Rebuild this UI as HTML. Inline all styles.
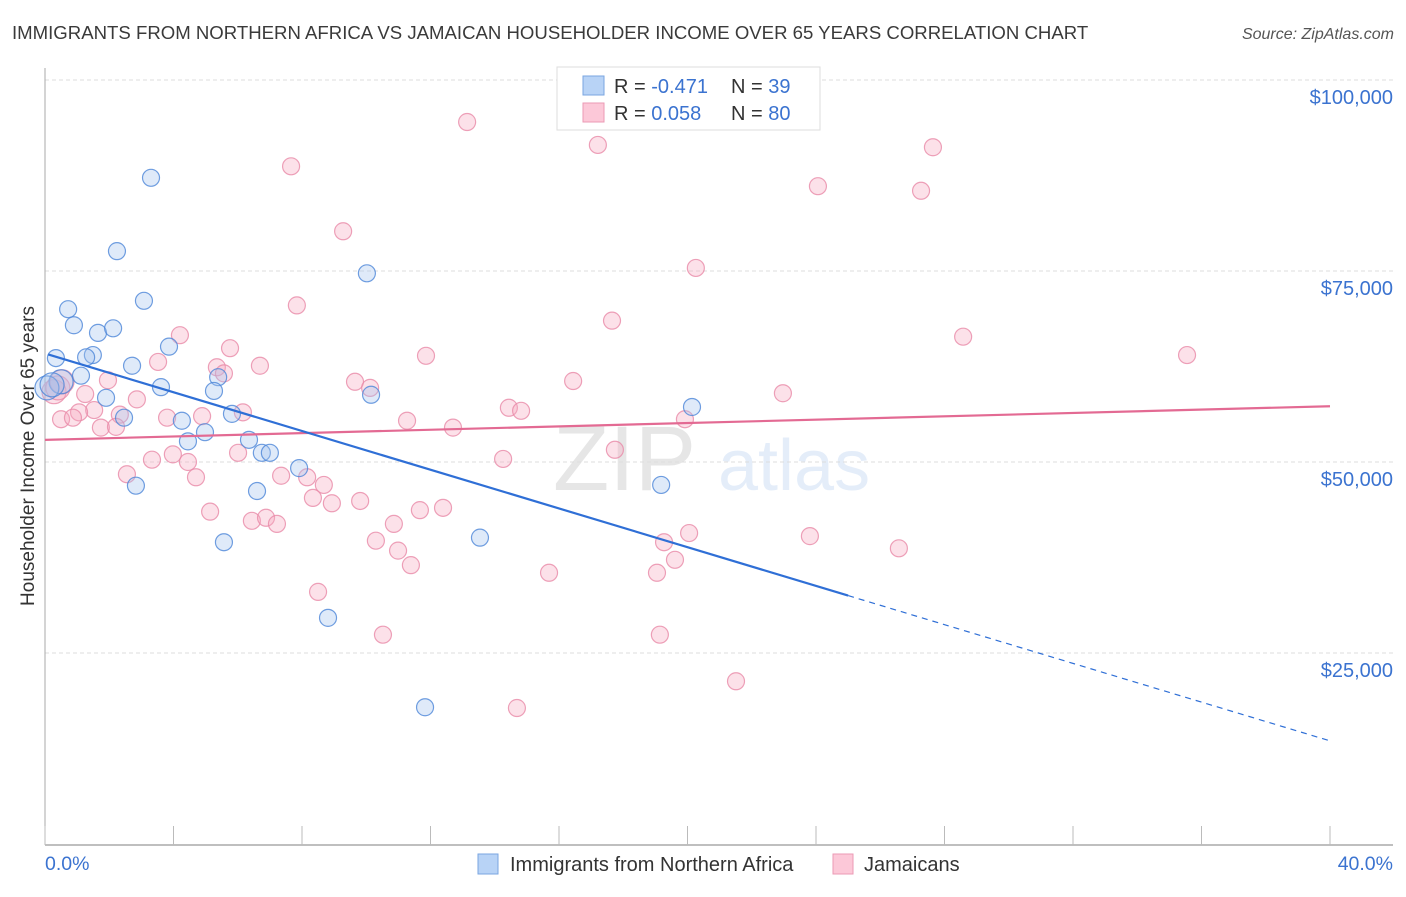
<!DOCTYPE html>
<html><head><meta charset="utf-8"><style>
body{margin:0;background:#fff;font-family:"Liberation Sans",sans-serif;}
svg text{font-family:"Liberation Sans",sans-serif;}
</style></head><body>
<svg id="chart" width="1406" height="892" viewBox="0 0 1406 892" xmlns="http://www.w3.org/2000/svg">
<text x="12" y="39" font-size="18.6" fill="#3a3a3a">IMMIGRANTS FROM NORTHERN AFRICA VS JAMAICAN HOUSEHOLDER INCOME OVER 65 YEARS CORRELATION CHART</text>
<text x="1394" y="39" font-size="16" fill="#555" font-style="italic" text-anchor="end">Source: ZipAtlas.com</text>
<g opacity="0.13">
<text x="553" y="490" font-size="92" font-family="Liberation Serif" fill="#444">ZIP</text>
<text x="718" y="490" font-size="72" fill="#3b7dd8">atlas</text>
</g>
<g id="grid"></g>
<g id="axes"></g>
<g id="pts"></g>
<g id="trends"></g>
<text transform="translate(34,456) rotate(-90)" font-size="19" fill="#333" text-anchor="middle">Householder Income Over 65 years</text>
<g>
<rect x="557" y="67" width="263" height="63" fill="#fff" stroke="#ddd"/>
<rect x="583" y="76" width="21" height="19" fill="#b8d3f6" stroke="#7aa6e0"/>
<rect x="583" y="103" width="21" height="19" fill="#fcc8d8" stroke="#eb9ab4"/>
<text x="614" y="93" font-size="20" fill="#333">R = <tspan fill="#3b73d0">-0.471</tspan></text>
<text x="731" y="93" font-size="20" fill="#333">N = <tspan fill="#3b73d0"> 39</tspan></text>
<text x="614" y="120" font-size="20" fill="#333">R = <tspan fill="#3b73d0"> 0.058</tspan></text>
<text x="731" y="120" font-size="20" fill="#333">N = <tspan fill="#3b73d0">80</tspan></text>
</g>
<g>
<rect x="478" y="854" width="20" height="20" fill="#b8d3f6" stroke="#7aa6e0"/>
<text x="510" y="871" font-size="20" fill="#333">Immigrants from Northern Africa</text>
<rect x="833" y="854" width="20" height="20" fill="#fcc8d8" stroke="#eb9ab4"/>
<text x="864" y="871" font-size="20" fill="#333">Jamaicans</text>
</g>
</svg>
<script>
const yTicks=[25000,50000,75000,100000];
const yTickLabels=["$25,000","$50,000","$75,000","$100,000"];
const xTickLabels=["0.0%","40.0%"];
const blueX=[3.30,2.24,10.02,3.08,0.72,0.90,1.65,2.12,1.49,1.28,0.34,3.86,2.71,1.12,5.39,0.50,3.61,5.26,1.90,10.15,2.46,4.26,5.82,4.98,4.45,6.35,6.75,7.00,7.91,2.83,6.60,19.18,20.14,5.57,13.54,8.81,11.83,0.06,0.22];
const blueY=[87.2,77.6,74.7,71.1,70.0,67.9,66.9,67.5,64.0,63.7,63.6,65.1,62.6,61.3,61.1,60.5,59.8,59.3,58.4,58.8,55.8,55.4,56.3,53.9,52.7,52.9,51.2,51.2,49.2,46.9,46.2,47.0,57.2,39.5,40.1,29.6,17.9,59.7,60.1];
const pinkX=[13.14,17.21,27.64,7.66,24.06,27.27,9.28,20.26,7.84,17.65,4.20,28.58,35.55,5.76,11.86,3.52,6.69,5.35,5.57,9.65,10.12,16.44,1.96,22.97,2.86,1.25,1.53,1.06,6.16,4.89,3.80,2.33,0.50,0.87,14.44,14.82,11.27,19.92,1.74,2.21,12.70,17.74,3.98,3.33,4.45,6.01,14.26,2.55,4.70,7.35,8.16,8.68,8.34,9.81,8.93,11.67,12.39,5.14,6.44,6.88,7.22,10.86,20.05,19.27,23.81,10.30,10.99,11.39,19.61,15.69,19.05,26.58,8.50,10.52,19.14,21.51,14.69,0.28,0.40,0.53];
const pinkY=[94.5,91.5,91.2,88.7,86.1,85.5,80.2,75.4,70.5,68.5,66.6,66.4,64.0,64.9,63.9,63.1,62.6,62.4,61.6,60.5,59.7,60.6,60.7,59.0,58.2,58.9,56.8,56.5,56.5,56.0,55.8,56.2,55.6,55.8,57.1,56.7,55.4,55.6,54.5,54.6,54.5,51.6,51.0,50.3,50.0,51.2,50.4,48.4,48.0,48.2,48.0,47.0,45.3,44.9,44.6,43.7,44.0,43.5,42.3,42.7,41.9,41.9,40.7,39.5,40.3,39.7,38.4,36.5,37.2,35.5,35.5,38.7,33.0,27.4,27.4,21.3,17.8,59.2,59.7,60.5];
const blueTrend=[64.2,13.5];
const pinkTrend=[52.9,57.3];
const blueSolidEnd=25.0;

const NS="http://www.w3.org/2000/svg";
const X=v=>45+v*32.125;
const Y=k=>844-k*7.64;
function mk(tag,attrs,parent){const e=document.createElementNS(NS,tag);for(const k in attrs)e.setAttribute(k,attrs[k]);parent.appendChild(e);return e;}
const grid=document.getElementById('grid'),axes=document.getElementById('axes'),pts=document.getElementById('pts'),tr=document.getElementById('trends');
yTicks.forEach((t,i)=>{
  const y=Y(t/1000);
  const l=mk('line',{x1:45,x2:1393,y1:y,y2:y,stroke:'#ddd','stroke-dasharray':'4,3'},grid);
  
  
  const tx=mk('text',{x:1393,y:y+24,'font-size':20,fill:'#3b73d0','text-anchor':'end'},axes);
  tx.textContent=yTickLabels[i];
  
  
});
const ax=mk('line',{x1:45,x2:45,y1:68,y2:845,stroke:'#aaa'},axes);


const bx=mk('line',{x1:45,x2:1393,y1:845,y2:845,stroke:'#aaa','stroke-width':1.5},axes);


for(let i=0;i<=10;i++){
  const x=X(i*4);
  const t=mk('line',{x1:x,x2:x,y1:826,y2:845,stroke:'#bbb'},axes);
  
  
}
[[0,'start'],[40,'end']].forEach((p,i)=>{
  const t=mk('text',{x:i?1393:45,y:870,'font-size':19.5,fill:'#3b73d0','text-anchor':p[1]},axes);
  t.textContent=xTickLabels[i];
  
  
});
function dots(xs,ys,fill,stroke,name){
  xs.forEach((v,i)=>{
    const big=v<0.6&&ys[i]>59&&ys[i]<61;
    const c=mk('circle',{cx:X(v),cy:Y(ys[i]),r:big?12:8.5,fill:fill,'fill-opacity':0.35,stroke:stroke,'stroke-width':1.2,'stroke-opacity':0.8},pts);
    
    
  });
}
dots(pinkX,pinkY,'#f7a9c0','#e88aa8','jamaican-point');
dots(blueX,blueY,'#a3c4ef','#4c86d8','immigrant-point');
function lerp(a,x){return a[0]+(a[1]-a[0])*x/40;}
const pl=mk('line',{x1:X(0),y1:Y(lerp(pinkTrend,0)),x2:X(40),y2:Y(lerp(pinkTrend,40)),stroke:'#e36a93','stroke-width':2.2},tr);


const bl=mk('line',{x1:X(0.1),y1:Y(lerp(blueTrend,0.1)),x2:X(blueSolidEnd),y2:Y(lerp(blueTrend,blueSolidEnd)),stroke:'#2f6fd6','stroke-width':2.2},tr);


const bd=mk('line',{x1:X(blueSolidEnd),y1:Y(lerp(blueTrend,blueSolidEnd)),x2:X(40),y2:Y(lerp(blueTrend,40)),stroke:'#2f6fd6','stroke-width':1.2,'stroke-dasharray':'6,5'},tr);


</script>
</body></html>
